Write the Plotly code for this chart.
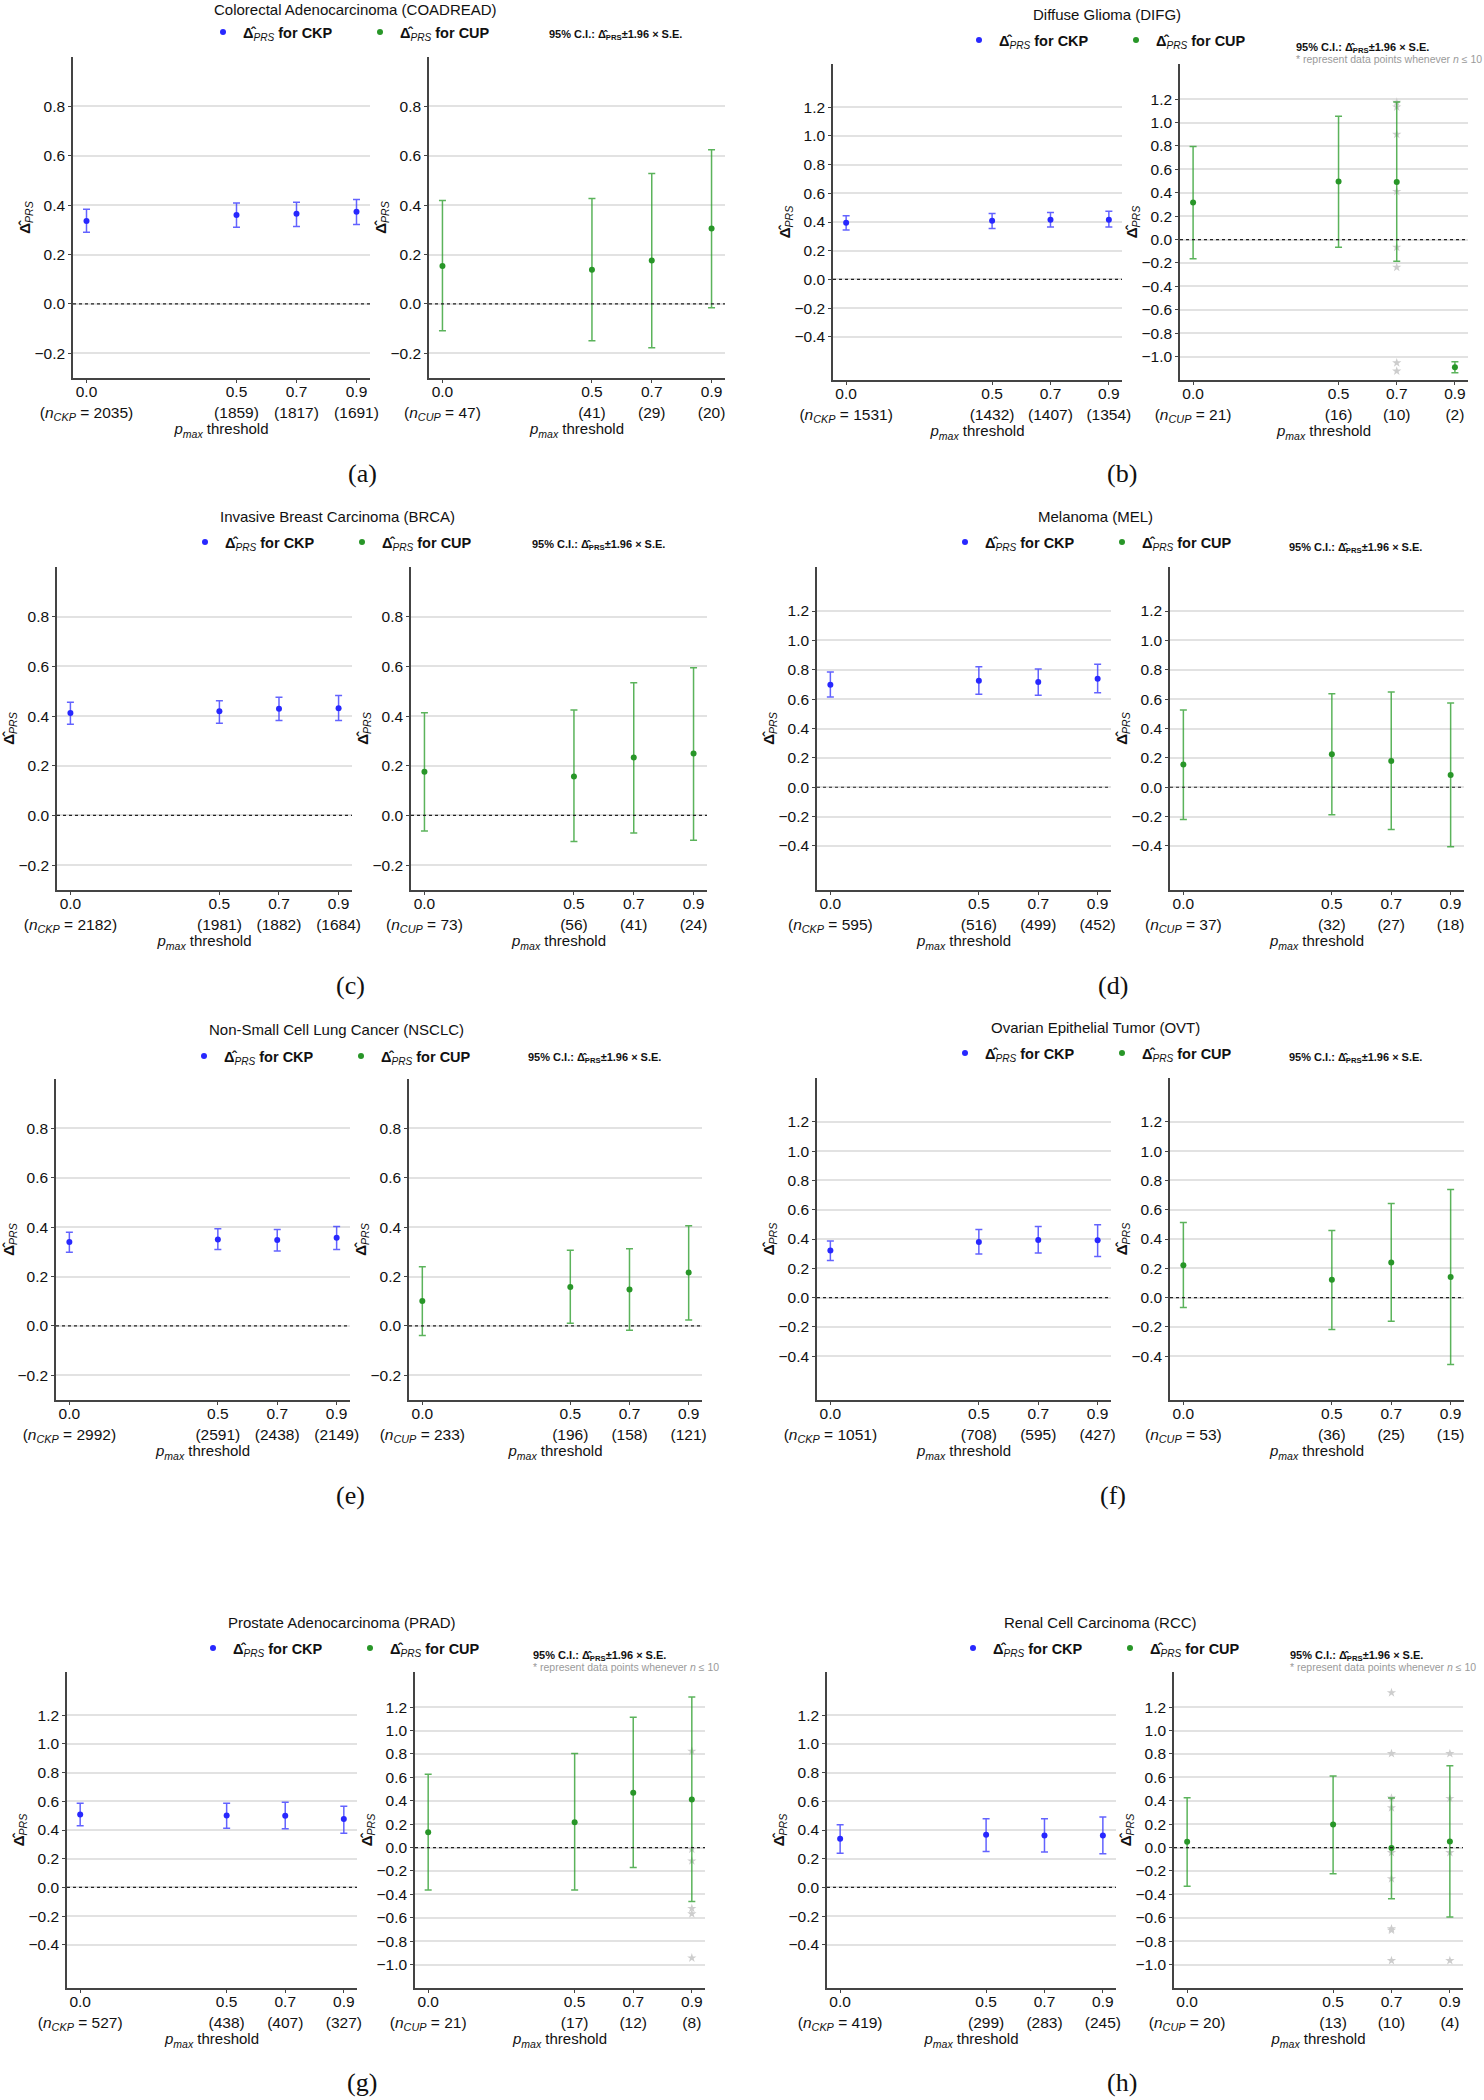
import plotly.graph_objects as go

# ---------------- data ----------------
THRESHOLDS = [0.0, 0.5, 0.7, 0.9]
THRESHOLD_LABELS = ["0.0", "0.5", "0.7", "0.9"]

# (a) Colorectal Adenocarcinoma
COADREAD_N_CKP = [2035, 1859, 1817, 1691]
COADREAD_N_CUP = [47, 41, 29, 20]
COADREAD_CKP_EST = [0.336, 0.360, 0.365, 0.373]
COADREAD_CKP_LO = [0.290, 0.311, 0.314, 0.322]
COADREAD_CKP_HI = [0.383, 0.409, 0.412, 0.423]
COADREAD_CUP_EST = [0.154, 0.138, 0.176, 0.305]
COADREAD_CUP_LO = [-0.109, -0.149, -0.177, -0.015]
COADREAD_CUP_HI = [0.419, 0.427, 0.528, 0.624]

# (b) Diffuse Glioma
DIFG_N_CKP = [1531, 1432, 1407, 1354]
DIFG_N_CUP = [21, 16, 10, 2]
DIFG_CKP_EST = [0.395, 0.409, 0.416, 0.416]
DIFG_CKP_LO = [0.344, 0.355, 0.365, 0.365]
DIFG_CKP_HI = [0.444, 0.460, 0.467, 0.474]
DIFG_CUP_EST = [0.317, 0.496, 0.491, -1.090]
DIFG_CUP_LO = [-0.163, -0.066, -0.185, -1.138]
DIFG_CUP_HI = [0.796, 1.053, 1.175, -1.044]
DIFG_STAR_X = [0.7, 0.7, 0.7, 0.7, 0.7, 0.7, 0.7, 0.7]
DIFG_STAR_Y = [1.173, 1.133, 0.899, 0.411, -0.066, -0.237, -1.053, -1.124]

# (c) Invasive Breast Carcinoma
BRCA_N_CKP = [2182, 1981, 1882, 1684]
BRCA_N_CUP = [73, 56, 41, 24]
BRCA_CKP_EST = [0.412, 0.419, 0.429, 0.432]
BRCA_CKP_LO = [0.367, 0.371, 0.382, 0.382]
BRCA_CKP_HI = [0.456, 0.462, 0.476, 0.483]
BRCA_CUP_EST = [0.176, 0.157, 0.233, 0.249]
BRCA_CUP_LO = [-0.063, -0.105, -0.071, -0.100]
BRCA_CUP_HI = [0.413, 0.424, 0.534, 0.595]

# (d) Melanoma
MEL_N_CKP = [595, 516, 499, 452]
MEL_N_CUP = [37, 32, 27, 18]
MEL_CKP_EST = [0.698, 0.726, 0.717, 0.739]
MEL_CKP_LO = [0.615, 0.633, 0.626, 0.644]
MEL_CKP_HI = [0.785, 0.821, 0.805, 0.837]
MEL_CUP_EST = [0.154, 0.224, 0.179, 0.084]
MEL_CUP_LO = [-0.220, -0.188, -0.288, -0.406]
MEL_CUP_HI = [0.526, 0.637, 0.649, 0.574]

# (e) Non-Small Cell Lung Cancer
NSCLC_N_CKP = [2992, 2591, 2438, 2149]
NSCLC_N_CUP = [233, 196, 158, 121]
NSCLC_CKP_EST = [0.340, 0.350, 0.348, 0.357]
NSCLC_CKP_LO = [0.298, 0.310, 0.303, 0.310]
NSCLC_CKP_HI = [0.379, 0.394, 0.390, 0.403]
NSCLC_CUP_EST = [0.101, 0.158, 0.148, 0.216]
NSCLC_CUP_LO = [-0.039, 0.011, -0.018, 0.024]
NSCLC_CUP_HI = [0.240, 0.306, 0.313, 0.406]

# (f) Ovarian Epithelial Tumor
OVT_N_CKP = [1051, 708, 595, 427]
OVT_N_CUP = [53, 36, 25, 15]
OVT_CKP_EST = [0.321, 0.380, 0.394, 0.392]
OVT_CKP_LO = [0.253, 0.298, 0.305, 0.280]
OVT_CKP_HI = [0.387, 0.465, 0.485, 0.497]
OVT_CUP_EST = [0.221, 0.121, 0.239, 0.141]
OVT_CUP_LO = [-0.068, -0.219, -0.162, -0.458]
OVT_CUP_HI = [0.513, 0.458, 0.642, 0.738]

# (g) Prostate Adenocarcinoma
PRAD_N_CKP = [527, 438, 407, 327]
PRAD_N_CUP = [21, 17, 12, 8]
PRAD_CKP_EST = [0.508, 0.501, 0.499, 0.476]
PRAD_CKP_LO = [0.429, 0.413, 0.408, 0.378]
PRAD_CKP_HI = [0.587, 0.587, 0.594, 0.566]
PRAD_CUP_EST = [0.131, 0.217, 0.469, 0.411]
PRAD_CUP_LO = [-0.363, -0.363, -0.171, -0.460]
PRAD_CUP_HI = [0.626, 0.803, 1.114, 1.286]
PRAD_STAR_X = [0.9, 0.9, 0.9, 0.9, 0.9, 0.9]
PRAD_STAR_Y = [0.823, -0.014, -0.114, -0.520, -0.566, -0.943]

# (h) Renal Cell Carcinoma
RCC_N_CKP = [419, 299, 283, 245]
RCC_N_CUP = [20, 13, 10, 4]
RCC_CKP_EST = [0.339, 0.367, 0.362, 0.362]
RCC_CKP_LO = [0.239, 0.251, 0.246, 0.234]
RCC_CKP_HI = [0.436, 0.478, 0.478, 0.490]
RCC_CUP_EST = [0.049, 0.197, -0.003, 0.051]
RCC_CUP_LO = [-0.331, -0.223, -0.437, -0.594]
RCC_CUP_HI = [0.426, 0.611, 0.423, 0.700]
RCC_STAR_X = [0.7, 0.7, 0.7, 0.7, 0.7, 0.7, 0.7, 0.7, 0.7, 0.9, 0.9, 0.9, 0.9]
RCC_STAR_Y = [1.323, 0.803, 0.423, 0.340, -0.043, -0.266, -0.694, -0.706, -0.966,
              0.803, 0.420, -0.043, -0.966]

TITLES = [
    "Colorectal Adenocarcinoma (COADREAD)",
    "Diffuse Glioma (DIFG)",
    "Invasive Breast Carcinoma (BRCA)",
    "Melanoma (MEL)",
    "Non-Small Cell Lung Cancer (NSCLC)",
    "Ovarian Epithelial Tumor (OVT)",
    "Prostate Adenocarcinoma (PRAD)",
    "Renal Cell Carcinoma (RCC)",
]
LABELS = ["(a)", "(b)", "(c)", "(d)", "(e)", "(f)", "(g)", "(h)"]

PANEL_DATA = [
    (COADREAD_N_CKP, COADREAD_N_CUP, COADREAD_CKP_EST, COADREAD_CKP_LO, COADREAD_CKP_HI,
     COADREAD_CUP_EST, COADREAD_CUP_LO, COADREAD_CUP_HI, None, None),
    (DIFG_N_CKP, DIFG_N_CUP, DIFG_CKP_EST, DIFG_CKP_LO, DIFG_CKP_HI,
     DIFG_CUP_EST, DIFG_CUP_LO, DIFG_CUP_HI, DIFG_STAR_X, DIFG_STAR_Y),
    (BRCA_N_CKP, BRCA_N_CUP, BRCA_CKP_EST, BRCA_CKP_LO, BRCA_CKP_HI,
     BRCA_CUP_EST, BRCA_CUP_LO, BRCA_CUP_HI, None, None),
    (MEL_N_CKP, MEL_N_CUP, MEL_CKP_EST, MEL_CKP_LO, MEL_CKP_HI,
     MEL_CUP_EST, MEL_CUP_LO, MEL_CUP_HI, None, None),
    (NSCLC_N_CKP, NSCLC_N_CUP, NSCLC_CKP_EST, NSCLC_CKP_LO, NSCLC_CKP_HI,
     NSCLC_CUP_EST, NSCLC_CUP_LO, NSCLC_CUP_HI, None, None),
    (OVT_N_CKP, OVT_N_CUP, OVT_CKP_EST, OVT_CKP_LO, OVT_CKP_HI,
     OVT_CUP_EST, OVT_CUP_LO, OVT_CUP_HI, None, None),
    (PRAD_N_CKP, PRAD_N_CUP, PRAD_CKP_EST, PRAD_CKP_LO, PRAD_CKP_HI,
     PRAD_CUP_EST, PRAD_CUP_LO, PRAD_CUP_HI, PRAD_STAR_X, PRAD_STAR_Y),
    (RCC_N_CKP, RCC_N_CUP, RCC_CKP_EST, RCC_CKP_LO, RCC_CKP_HI,
     RCC_CUP_EST, RCC_CUP_LO, RCC_CUP_HI, RCC_STAR_X, RCC_STAR_Y),
]

# ---------------- layout geometry (pixels) ----------------
W, H = 1484, 2100
SMALL = ([-0.3, 1.0], [-0.2, 0.0, 0.2, 0.4, 0.6, 0.8])
MID = ([-0.7, 1.5], [-0.4, -0.2, 0.0, 0.2, 0.4, 0.6, 0.8, 1.0, 1.2])
BIG = ([-1.2, 1.5], [-1.0, -0.8, -0.6, -0.4, -0.2, 0.0, 0.2, 0.4, 0.6, 0.8, 1.0, 1.2])

GEOM = [
    dict(ckp=(73, 370), cup=(429, 725), top=57, bot=378, title=(355, 9), leg=(222, 32), ci=(547, 35), note=False, lab=(362, 473), yr=(SMALL, SMALL)),
    dict(ckp=(833, 1122), cup=(1180, 1468), top=64, bot=380, title=(1107, 14), leg=(978, 40), ci=(1294, 48), note=True, lab=(1122, 473), yr=(MID, BIG)),
    dict(ckp=(57, 352), cup=(411, 707), top=567, bot=890, title=(337, 516), leg=(204, 542), ci=(530, 545), note=False, lab=(350, 986), yr=(SMALL, SMALL)),
    dict(ckp=(817, 1111), cup=(1170, 1464), top=567, bot=890, title=(1095, 516), leg=(964, 542), ci=(1287, 548), note=False, lab=(1113, 986), yr=(MID, MID)),
    dict(ckp=(56, 350), cup=(409, 702), top=1079, bot=1400, title=(336, 1029), leg=(203, 1056), ci=(526, 1058), note=False, lab=(350, 1495), yr=(SMALL, SMALL)),
    dict(ckp=(817, 1111), cup=(1170, 1464), top=1078, bot=1400, title=(1095, 1027), leg=(964, 1053), ci=(1287, 1058), note=False, lab=(1113, 1495), yr=(MID, MID)),
    dict(ckp=(67, 357), cup=(415, 705), top=1672, bot=1988, title=(342, 1622), leg=(212, 1648), ci=(531, 1656), note=True, lab=(362, 2082), yr=(MID, BIG)),
    dict(ckp=(827, 1116), cup=(1174, 1463), top=1672, bot=1988, title=(1100, 1622), leg=(972, 1648), ci=(1288, 1656), note=True, lab=(1122, 2082), yr=(MID, BIG)),
]

FONT = "Liberation Sans, Arial, sans-serif"
BLUE = "rgb(40,40,255)"
BLUE_BAR = "rgba(60,60,255,0.8)"
GREEN = "rgb(40,150,40)"
GREEN_BAR = "rgba(50,160,50,0.8)"
STAR = "rgb(205,205,205)"
DELTA = "<b>\u0394\u0302</b><sub><i>PRS</i></sub>"


def px(x):
    return x / W


def py(y):
    return 1 - y / H


fig = go.Figure()
layout = {}
shapes = []
annotations = []

for k, (geom, data) in enumerate(zip(GEOM, PANEL_DATA)):
    n_ckp, n_cup, ce, cl, ch, ue, ul, uh, sx, sy = data
    legname = "legend" if k == 0 else f"legend{k + 1}"
    for j, side in enumerate(("ckp", "cup")):
        idx = 2 * k + j + 1
        xname = "x" if idx == 1 else f"x{idx}"
        yname = "y" if idx == 1 else f"y{idx}"
        xkey = "xaxis" if idx == 1 else f"xaxis{idx}"
        ykey = "yaxis" if idx == 1 else f"yaxis{idx}"
        x0, x1 = geom[side]
        rng, tv = geom["yr"][j]
        if side == "ckp":
            ns, est, lo, hi = n_ckp, ce, cl, ch
            sub = "CKP"
            color, barc = BLUE, BLUE_BAR
        else:
            ns, est, lo, hi = n_cup, ue, ul, uh
            sub = "CUP"
            color, barc = GREEN, GREEN_BAR
        ticktext = []
        for i, (lab, n) in enumerate(zip(THRESHOLD_LABELS, ns)):
            if i == 0:
                ticktext.append(f"{lab}<br>(<i>n<sub>{sub}</sub></i> = {n})")
            else:
                ticktext.append(f"{lab}<br>({n})")
        layout[xkey] = dict(
            domain=[px(x0), px(x1)], anchor=yname, range=[-0.045, 0.945],
            tickmode="array", tickvals=THRESHOLDS, ticktext=ticktext,
            showgrid=False, zeroline=False, showline=True, linecolor="#444", linewidth=1.5,
            ticks="outside", ticklen=3, tickcolor="#444", automargin=False,
            ticklabelstandoff=-4,
            tickfont=dict(family=FONT, size=15.5, color="#111"),
            title=dict(text="<i>p<sub>max</sub></i> threshold", standoff=0,
                       font=dict(family=FONT, size=15, color="#111")),
        )
        layout[ykey] = dict(
            domain=[py(geom["bot"]), py(geom["top"])], anchor=xname, range=rng,
            tickmode="array", tickvals=tv, tickformat=".1f",
            showgrid=True, gridcolor="#e2e2e2", gridwidth=1.5, zeroline=False,
            showline=True, linecolor="#444", linewidth=1.5,
            ticks="outside", ticklen=3, tickcolor="#444", automargin=False,
            tickfont=dict(family=FONT, size=15.5, color="#111"),
            title=dict(text=DELTA, standoff=0, font=dict(family=FONT, size=15, color="#111")),
        )
        shapes.append(dict(type="line", xref=f"{xname} domain", x0=0, x1=1,
                           yref=yname, y0=0, y1=0, layer="above",
                           line=dict(color="#222", width=1.2, dash="dot")))
        if side == "cup" and sx is not None:
            fig.add_trace(go.Scatter(
                x=sx, y=sy, mode="markers", xaxis=xname, yaxis=yname,
                marker=dict(symbol="star", size=7, color=STAR), showlegend=False,
                hoverinfo="y"))
        fig.add_trace(go.Scatter(
            x=THRESHOLDS, y=est, mode="markers", xaxis=xname, yaxis=yname,
            name=f"{DELTA} <b>for {sub}</b>", legend=legname, showlegend=True,
            marker=dict(color=color, size=6),
            error_y=dict(type="data", symmetric=False,
                         array=[h - e for h, e in zip(hi, est)],
                         arrayminus=[e - l for e, l in zip(est, lo)],
                         color=barc, thickness=1.5, width=3.5),
        ))

    lx, ly = geom["leg"]
    layout[legname] = dict(
        x=px(lx - 19), y=py(ly), xanchor="left", yanchor="middle",
        orientation="h", bgcolor="rgba(0,0,0,0)", borderwidth=0,
        entrywidth=112, entrywidthmode="pixels",
        font=dict(family=FONT, size=14.5, color="#111"),
    )
    tx, ty = geom["title"]
    annotations.append(dict(text=TITLES[k], x=px(tx), y=py(ty), xref="paper", yref="paper",
                            xanchor="center", yanchor="middle", showarrow=False,
                            font=dict(family=FONT, size=15, color="#111")))
    cx, cy = geom["ci"]
    annotations.append(dict(text="<b>95% C.I.: \u0394\u0302<sub>PRS</sub>\u00b11.96 \u00d7 S.E.</b>",
                            x=px(cx), y=py(cy), xref="paper", yref="paper",
                            xanchor="left", yanchor="middle", showarrow=False,
                            font=dict(family=FONT, size=11, color="#111")))
    if geom["note"]:
        annotations.append(dict(text="* represent data points whenever <i>n</i> \u2264 10",
                                x=px(cx), y=py(cy + 11), xref="paper", yref="paper",
                                xanchor="left", yanchor="middle", showarrow=False,
                                font=dict(family=FONT, size=10.5, color="#9a9a9a")))
    bx, by = geom["lab"]
    annotations.append(dict(text=LABELS[k], x=px(bx), y=py(by), xref="paper", yref="paper",
                            xanchor="center", yanchor="middle", showarrow=False,
                            font=dict(family="Liberation Serif, DejaVu Serif, serif", size=26, color="#111")))

fig.update_layout(
    width=W, height=H, margin=dict(l=0, r=0, t=0, b=0),
    paper_bgcolor="white", plot_bgcolor="white",
    shapes=shapes, annotations=annotations,
    font=dict(family=FONT),
    **layout,
)

fig.write_html("out.html", config={"displayModeBar": False},
               post_script="document.body.style.margin='0px';")
